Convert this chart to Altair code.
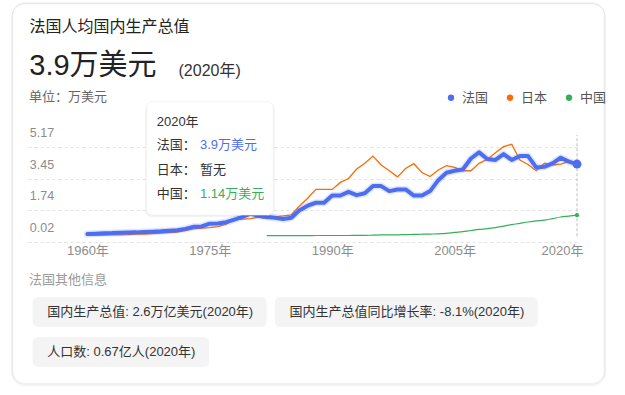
import altair as alt
import pandas as pd

FONT = "Liberation Sans, Arial, Noto Sans CJK SC, sans-serif"

# ---------------- data (万美元) ----------------
SERIES = ["法国", "日本", "中国"]
COLORS = ["#4e6ef2", "#ff6a00", "#36b058"]

FRANCE_YEARS = list(range(1960, 2021))
FRANCE = [0.12, 0.14, 0.16, 0.17, 0.19, 0.20, 0.21, 0.23, 0.25, 0.27,
          0.30, 0.33, 0.40, 0.51, 0.53, 0.68, 0.69, 0.76, 0.90, 1.05,
          1.22, 1.10, 1.04, 1.00, 0.93, 1.00, 1.41, 1.65, 1.81, 1.81,
          2.20, 2.20, 2.40, 2.22, 2.32, 2.71, 2.71, 2.44, 2.53, 2.53,
          2.20, 2.20, 2.44, 3.03, 3.43, 3.54, 3.61, 4.20, 4.53, 4.17,
          4.12, 4.44, 4.12, 4.33, 4.33, 3.72, 3.75, 3.94, 4.24, 4.03,
          3.90]

JAPAN_YEARS = list(range(1960, 2020))
JAPAN = [0.05, 0.06, 0.06, 0.07, 0.08, 0.09, 0.11, 0.12, 0.15, 0.17,
         0.20, 0.23, 0.30, 0.40, 0.44, 0.47, 0.52, 0.65, 0.90, 0.93,
         0.95, 1.04, 0.96, 1.05, 1.10, 1.16, 1.64, 2.05, 2.53, 2.53,
         2.53, 2.91, 3.12, 3.63, 3.94, 4.33, 3.85, 3.54, 3.21, 3.66,
         3.92, 3.44, 3.23, 3.58, 3.81, 3.72, 3.54, 3.54, 3.94, 4.15,
         4.51, 4.84, 4.97, 4.12, 3.88, 3.54, 3.94, 3.85, 3.90, 4.03]

CHINA_YEARS = list(range(1982, 2021))
CHINA = [0.03, 0.03, 0.03, 0.03, 0.03, 0.03, 0.04, 0.04,
         0.04, 0.04, 0.04, 0.05, 0.05, 0.06, 0.07, 0.08, 0.08, 0.09,
         0.10, 0.11, 0.12, 0.13, 0.16, 0.21, 0.25, 0.31, 0.37, 0.41,
         0.47, 0.55, 0.63, 0.70, 0.77, 0.83, 0.87, 0.95, 1.04, 1.09,
         1.14]

X_TICKS = [1960, 1975, 1990, 2005, 2020]
Y_TICK_LABELS = [0.02, 1.74, 3.45, 5.17]

TITLE = "法国人均国内生产总值"
BIG_VALUE = "3.9万美元"
BIG_YEAR = "(2020年)"
UNIT = "单位：万美元"
TIP_ROWS = [("2020年", None, "#333333"),
            ("法国：", "3.9万美元", COLORS[0]),
            ("日本：", "暂无", "#333333"),
            ("中国：", "1.14万美元", COLORS[2])]
OTHER_TITLE = "法国其他信息"
PILLS = ["国内生产总值: 2.6万亿美元(2020年)",
         "国内生产总值同比增长率: -8.1%(2020年)",
         "人口数: 0.67亿人(2020年)"]

rows = []
for name, yrs, vals in [("法国", FRANCE_YEARS, FRANCE),
                        ("日本", JAPAN_YEARS, JAPAN),
                        ("中国", CHINA_YEARS, CHINA)]:
    for yr, v in zip(yrs, vals):
        rows.append({"year": yr, "value": v, "country": name})
df = pd.DataFrame(rows)
one = pd.DataFrame({"k": [0]})

# ---------------- scales / axes ----------------
LABEL_SHIFT = 0.33
y_grid = [round(t - LABEL_SHIFT, 2) for t in Y_TICK_LABELS]
x_scale = alt.Scale(domain=[1952.72, 2020], nice=False, zero=False)
y_scale = alt.Scale(domain=[y_grid[0], 5.47], nice=False, zero=False)
color_scale = alt.Scale(domain=SERIES, range=COLORS)
COLOR_OF = dict(zip(SERIES, COLORS))

x_enc = alt.X("year:Q", scale=x_scale, title=None,
              axis=alt.Axis(values=X_TICKS, tickCount=len(X_TICKS) + 2,
                            labelExpr="datum.value + '年'",
                            grid=False, domain=False, ticks=False, tickSize=0,
                            labelPadding=8, labelBaseline="middle", labelOverlap=False,
                            labelFontSize=13, labelColor="#8c8c8c", labelFont=FONT,
                            labelFlush=True, labelFlushOffset=6))
y_enc = alt.Y("value:Q", scale=y_scale, title=None,
              axis=alt.Axis(values=y_grid, tickCount=len(y_grid) + 2,
                            labelExpr="format(datum.value + %s, '.2f')" % LABEL_SHIFT,
                            grid=True, gridDash=[3, 3], gridColor="#e2e2e2",
                            domain=False, ticks=False, tickSize=0, labelOverlap=False,
                            labelAlign="left", labelPadding=-1.3, labelOffset=-14.5,
                            labelBaseline="middle", labelFontSize=12.5,
                            labelColor="#8c8c8c", labelFont=FONT))
color_enc = alt.Color("country:N", scale=color_scale,
                      legend=alt.Legend(orient="none", legendX=416.5, legendY=-44,
                                        direction="horizontal", title=None,
                                        symbolType="circle", symbolSize=40,
                                        symbolStrokeWidth=0, symbolOpacity=1,
                                        labelFontSize=13, labelColor="#555555",
                                        labelFont=FONT, labelOffset=4.5,
                                        columnPadding=15, padding=0))


def series(name):
    return alt.Chart(df).transform_filter(alt.datum.country == name)


def rect(x, x2, y, y2, **kw):
    return alt.Chart(one).mark_rect(**kw).encode(
        x=alt.value(x), x2=alt.value(x2), y=alt.value(y), y2=alt.value(y2))


def text(s, x, y, size=13, color="#333333", **kw):
    return alt.Chart(one).mark_text(text=s, align="left", baseline="middle",
                                    font=FONT, fontSize=size, color=color, **kw
                                    ).encode(x=alt.value(x), y=alt.value(y))


layers = []
# card outline with a soft shadow (strokes only, background stays white)
for d, op in [(3.0, 0.03), (2.0, 0.045), (1.0, 0.07)]:
    layers.append(rect(-15.3 - d / 3, 576.3 + d / 3, -132 + d / 3, 248.3 + d,
                       filled=False, stroke="#000000", strokeOpacity=op,
                       strokeWidth=1, cornerRadius=12 + d / 2))
layers.append(rect(-15.3, 576.3, -132, 248.3, filled=False, stroke="#ebebeb",
                   strokeWidth=0.8, cornerRadius=12))

# header texts
layers.append(text(TITLE, 1.5, -108.5, size=16, color="#222222"))
layers.append(text(BIG_VALUE, 1.3, -69.5, size=29, color="#222222"))
layers.append(text(BIG_YEAR, 150.5, -64.5, size=16, color="#333333"))
layers.append(text(UNIT, 1, -38, size=13, color="#666666"))

# 2020 rule
layers.append(alt.Chart(pd.DataFrame({"year": [2020], "value": [0.0]})).mark_rule(
    color="#bdbdbd", strokeDash=[3, 2], strokeWidth=1).encode(
    x=x_enc, y=y_enc, y2=alt.value(0)))

# lines
layers.append(series("中国").mark_line(strokeWidth=1.2, interpolate="monotone",
                                       color=COLOR_OF["中国"]).encode(x=x_enc, y=y_enc))
layers.append(series("日本").mark_line(strokeWidth=1.3, color=COLOR_OF["日本"]
                                       ).encode(x=x_enc, y=y_enc))
layers.append(series("法国").mark_line(strokeWidth=7, opacity=0.18, strokeJoin="round",
                                       strokeCap="round", color=COLOR_OF["法国"]
                                       ).encode(x=x_enc, y=y_enc))
layers.append(series("法国").mark_line(strokeWidth=4, strokeJoin="round",
                                       strokeCap="round", color=COLOR_OF["法国"]
                                       ).encode(x=x_enc, y=y_enc))
# legend carrier (hidden under the France end dot)
layers.append(series("法国").transform_filter(alt.datum.year == 2020).mark_circle(
    size=40, opacity=1).encode(x=x_enc, y=y_enc, color=color_enc))
# end dots
layers.append(series("法国").transform_filter(alt.datum.year == 2020).mark_circle(
    size=80, opacity=1, color=COLOR_OF["法国"]).encode(x=x_enc, y=y_enc))
layers.append(series("中国").transform_filter(alt.datum.year == 2020).mark_circle(
    size=18, opacity=1, color=COLOR_OF["中国"]).encode(x=x_enc, y=y_enc))

# tooltip panel
layers.append(rect(117.2, 246.8, -32.3, 82, fill="#000000", opacity=0.05, cornerRadius=7))
layers.append(rect(118.7, 245.3, -33.3, 80, fill="white", stroke="#eeeeee",
                   strokeWidth=0.6, cornerRadius=6))
tip_y = [-13.3, 10, 35, 59]
for (lab, val, col), yy in zip(TIP_ROWS, tip_y):
    layers.append(text(lab, 128.7, yy, size=13, color="#333333"))
    if val is not None:
        layers.append(text(val, 172, yy, size=13, color=col))

# other info
layers.append(text(OTHER_TITLE, 1, 145, size=13, color="#9a9a9a"))
pill_boxes = [(4.7, 238.7, 162.3, 191.7), (247, 509.7, 162.3, 191.7), (4.7, 181, 202.3, 231.7)]
for s, (x0, x1, y0, y1) in zip(PILLS, pill_boxes):
    layers.append(rect(x0, x1, y0, y1, fill="#f4f4f5", cornerRadius=5))
    layers.append(text(s, x0 + 14.6, (y0 + y1) / 2, size=13, color="#333333"))

chart = alt.layer(*layers).properties(
    width=549, height=107,
    padding={"left": 28, "top": 135, "right": 48, "bottom": 153},
    autosize=alt.AutoSizeParams(type="none"),
    background="white",
).configure_view(stroke=None)

chart.save("out.html", embed_options={"renderer": "svg", "actions": False})
